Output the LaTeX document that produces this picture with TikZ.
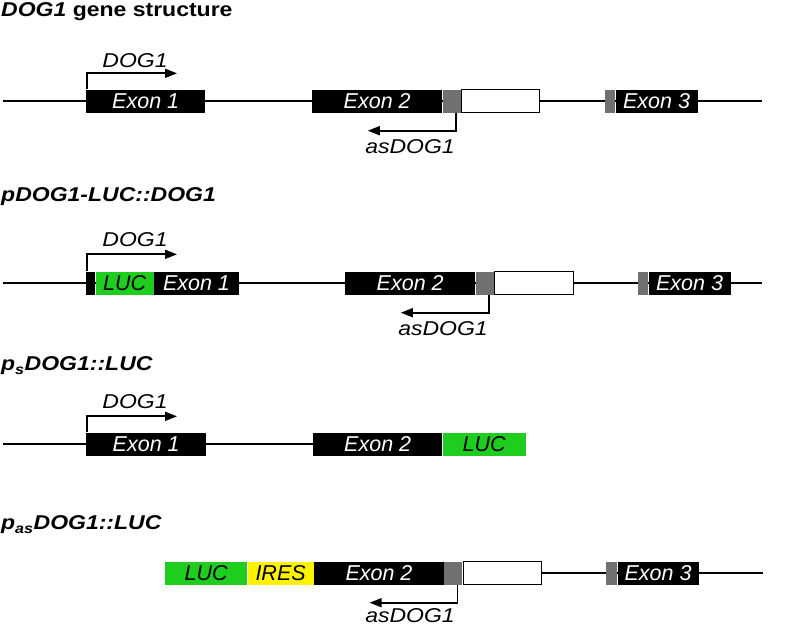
\documentclass[tikz,border=0pt]{standalone}
\usepackage{fontspec}
\setmainfont{Liberation Sans}[FakeStretch=1.15]
\newfontfamily\exonfont{Liberation Sans}
\usetikzlibrary{arrows.meta}
\definecolor{lucgreen}{RGB}{30,205,30}
\definecolor{utrgray}{RGB}{112,112,112}
\tikzset{
  gene/.style={line width=1.7pt},
  blk/.style={inner sep=0pt,minimum height=23pt,anchor=west,draw=none,font=\exonfont\fontsize{21.5}{24}\selectfont\itshape},
  exon/.style={blk,fill=black,text=white},
  luc/.style={blk,fill=lucgreen,text=black},
  ires/.style={blk,fill=yellow,text=black},
  utr/.style={blk,fill=utrgray},
  tail/.style={blk,fill=white,draw=black,line width=1.3pt},
  tss/.style={line width=1.7pt,-{Triangle[length=12pt,width=9pt]}},
  lbl/.style={inner sep=0pt,font=\fontsize{20}{23}\selectfont\itshape},
  title/.style={inner sep=0pt,anchor=west,font=\fontsize{20}{23}\selectfont\bfseries}
}
\begin{document}
\begin{tikzpicture}[x=1pt,y=-1pt]
\useasboundingbox (0,0) rectangle (796,627);
% DOG1 gene structure
\node[title] (t1) at (1,12) {\textit{DOG1} gene structure};
\coordinate (s1) at (3,101); \coordinate (e1) at (762,101);
\draw[gene] (s1) -- (e1);
\node[exon,minimum width=119] (ex1a) at (86,101) {Exon 1};
\node[exon,minimum width=130] (ex2a) at (312,101) {Exon 2};
\node[utr,minimum width=18] (u2a) at (ex2a.east) {};
\node[tail,minimum width=78] (w2a) at (u2a.east) {};
\node[utr,minimum width=10] (u3a) at (605,101) {};
\node[exon,minimum width=82] (ex3a) at (u3a.east) {Exon 3};
\draw[tss] ([xshift=1pt]ex1a.north west) -- ++(0,-16) -- ++(90,0);
\node[lbl] (d1) at (135,61) {DOG1};
\draw[tss] ([xshift=-5pt]u2a.south east) -- ++(0,18) -- ++(-88,0);
\node[lbl] (as1) at (410,147) {asDOG1};
% pDOG1-LUC::DOG1
\node[title] (t2) at (1,197) {\textit{pDOG1-LUC::DOG1}};
\coordinate (s2) at (3,283); \coordinate (e2) at (762,283);
\draw[gene] (s2) -- (e2);
\node[exon,minimum width=9] (ex0b) at (86,283) {};
\node[luc,minimum width=58] (lucb) at (ex0b.east) {LUC};
\node[exon,minimum width=85] (ex1b) at (lucb.east) {Exon 1};
\node[exon,minimum width=130] (ex2b) at (345,283) {Exon 2};
\node[utr,minimum width=18] (u2b) at (ex2b.east) {};
\node[tail,minimum width=79] (w2b) at (u2b.east) {};
\node[utr,minimum width=10] (u3b) at (638,283) {};
\node[exon,minimum width=82] (ex3b) at (u3b.east) {Exon 3};
\draw[tss] ([xshift=1pt]ex0b.north west) -- ++(0,-17) -- ++(90,0);
\node[lbl] (d2) at (135,240) {DOG1};
\draw[tss] ([xshift=-5pt]u2b.south east) -- ++(0,18) -- ++(-88,0);
\node[lbl] (as2) at (443,329) {asDOG1};
% psDOG1::LUC
\node[title] (t3) at (1,366) {\textit{p\textsubscript{s}DOG1::LUC}};
\coordinate (s3) at (3,444); \coordinate (e3) at (313,444);
\draw[gene] (s3) -- (e3);
\node[exon,minimum width=120] (ex1c) at (86,444) {Exon 1};
\node[exon,minimum width=129] (ex2c) at (313,444) {Exon 2};
\node[luc,minimum width=83] (lucc) at (ex2c.east) {LUC};
\draw[tss] ([xshift=1pt]ex1c.north west) -- ++(0,-16) -- ++(90,0);
\node[lbl] (d3) at (135,402) {DOG1};
% pasDOG1::LUC
\node[title] (t4) at (1,525) {\textit{p\textsubscript{as}DOG1::LUC}};
\coordinate (s4) at (540,573); \coordinate (e4) at (763,573);
\draw[gene] (s4) -- (e4);
\node[luc,minimum width=82] (lucd) at (165,573) {LUC};
\node[ires,minimum width=66] (iresd) at (lucd.east) {IRES};
\node[exon,minimum width=130] (ex2d) at (iresd.east) {Exon 2};
\node[utr,minimum width=18] (u2d) at (ex2d.east) {};
\node[tail,minimum width=78] (w2d) at (u2d.east) {};
\node[utr,minimum width=11] (u3d) at (606,573) {};
\node[exon,minimum width=81] (ex3d) at (u3d.east) {Exon 3};
\draw[tss] ([xshift=-5pt]u2d.south east) -- ++(0,18) -- ++(-88,0);
\node[lbl] (as4) at (410,616) {asDOG1};
\end{tikzpicture}
\end{document}
